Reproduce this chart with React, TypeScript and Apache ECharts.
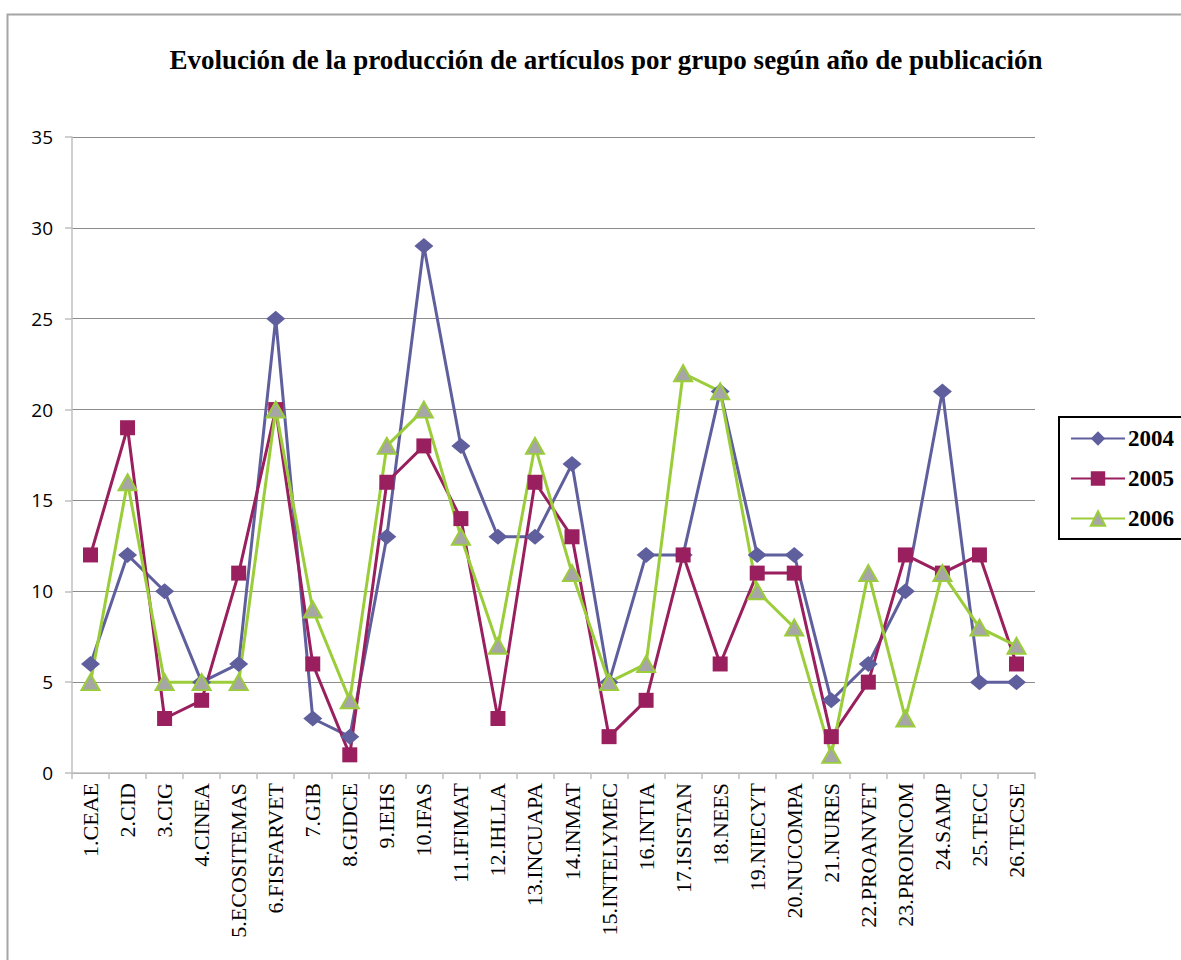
import React, { useEffect, useRef } from "react";
import * as echarts from "echarts";

// Research groups (x axis categories)
const groups = [
  "1.CEAE", "2.CID", "3.CIG", "4.CINEA", "5.ECOSITEMAS", "6.FISFARVET", "7.GIB",
  "8.GIDCE", "9.IEHS", "10.IFAS", "11.IFIMAT", "12.IHLLA", "13.INCUAPA", "14.INMAT",
  "15.INTELYMEC", "16.INTIA", "17.ISISTAN", "18.NEES", "19.NIECYT", "20.NUCOMPA",
  "21.NURES", "22.PROANVET", "23.PROINCOM", "24.SAMP", "25.TECC", "26.TECSE",
];

// Articles published per group and year
const articles2004 = [6, 12, 10, 5, 6, 25, 3, 2, 13, 29, 18, 13, 13, 17, 5, 12, 12, 21, 12, 12, 4, 6, 10, 21, 5, 5];
const articles2005 = [12, 19, 3, 4, 11, 20, 6, 1, 16, 18, 14, 3, 16, 13, 2, 4, 12, 6, 11, 11, 2, 5, 12, 11, 12, 6];
const articles2006 = [5, 16, 5, 5, 5, 20, 9, 4, 18, 20, 13, 7, 18, 11, 5, 6, 22, 21, 10, 8, 1, 11, 3, 11, 8, 7];

const yearNames = ["2004", "2005", "2006"];
const yTicks = [0, 5, 10, 15, 20, 25, 30, 35];

const SERIF = "'Liberation Serif', 'Times New Roman', serif";
const SANS = "'Open Sans', 'Noto Sans', sans-serif";

export default function App() {
  const ref = useRef<HTMLDivElement>(null);

  useEffect(() => {
    if (!ref.current) return;
    const chart = echarts.init(ref.current, null, { renderer: "svg" });

    const lineSeries = (
      name: string,
      data: number[],
      lineColor: string,
      fill: string,
      symbol: string,
      symbolSize: number | number[],
      border?: string
    ) => ({
      name,
      type: "line",
      data,
      symbol,
      symbolSize,
      showAllSymbol: true,
      lineStyle: { color: lineColor, width: 3 },
      itemStyle: {
        color: fill,
        borderColor: border ?? fill,
        borderWidth: border ? 2 : 0,
      },
      emphasis: { disabled: true },
    });

    chart.setOption({
      animation: false,
      backgroundColor: "#ffffff",
      title: {
        text: "Evolución de la producción de artículos por grupo según año de publicación",
        left: 601,
        textAlign: "center",
        top: 41,
        textStyle: {
          fontFamily: SERIF,
          fontWeight: "bold",
          fontSize: 27,
          color: "#000000",
        },
      },
      graphic: [
        {
          type: "rect",
          shape: { x: 7.5, y: 14.5, width: 1220, height: 1000 },
          style: { fill: "none", stroke: "#a6a6a6", lineWidth: 2 },
          z: -1,
        },
      ],
      legend: {
        orient: "vertical",
        left: 1059,
        top: 417,
        data: yearNames,
        itemWidth: 54,
        itemHeight: 18,
        itemGap: 17,
        padding: [10, 20, 9, 11],
        borderColor: "#000000",
        borderWidth: 2,
        backgroundColor: "#ffffff",
        selectedMode: false,
        textStyle: {
          fontFamily: SERIF,
          fontWeight: "bold",
          fontSize: 23,
          color: "#000000",
          padding: [0, 0, 0, -2],
        },
      },
      grid: { left: 72, right: 146, top: 137, bottom: 187, containLabel: false },
      xAxis: {
        type: "category",
        data: groups,
        boundaryGap: true,
        axisLine: { lineStyle: { color: "#bfbfbf", width: 1.5 } },
        axisTick: { show: true, alignWithLabel: false, length: 6, lineStyle: { color: "#bfbfbf", width: 1.5 } },
        axisLabel: {
          rotate: 90,
          interval: 0,
          margin: 10,
          fontFamily: SERIF,
          fontSize: 22,
          color: "#000000",
        },
      },
      yAxis: {
        type: "value",
        min: yTicks[0],
        max: yTicks[yTicks.length - 1],
        interval: 5,
        axisLine: { show: true, lineStyle: { color: "#bfbfbf", width: 1.5 } },
        axisTick: { show: true, length: 7, lineStyle: { color: "#bfbfbf", width: 1.5 } },
        splitLine: { show: true, lineStyle: { color: "#8c8c8c", width: 1 } },
        axisLabel: {
          margin: 19,
          fontFamily: SANS,
          fontSize: 19,
          color: "#000000",
        },
      },
      series: [
        lineSeries(yearNames[0], articles2004, "#5f5f9e", "#5f5f9e", "diamond", [19, 16]),
        lineSeries(yearNames[1], articles2005, "#991f5e", "#991f5e", "rect", [15, 15]),
        lineSeries(yearNames[2], articles2006, "#9bcd3a", "#a6a6a6", "triangle", [18, 16], "#9bcd3a"),
      ],
    });

    return () => chart.dispose();
  }, []);

  return (
    <div
      ref={ref}
      style={{ position: "fixed", left: 0, top: 0, width: 1181, height: 960, background: "#fff" }}
    />
  );
}
